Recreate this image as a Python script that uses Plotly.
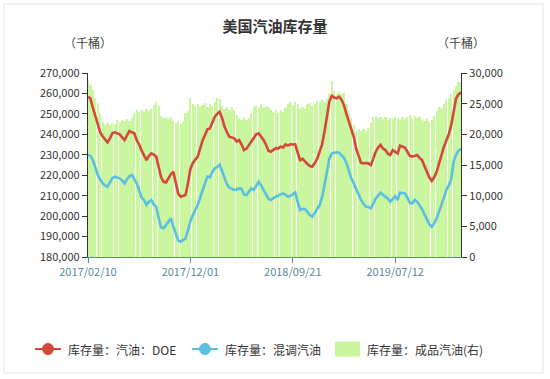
import pandas as pd
import plotly.graph_objects as go

# ---- data ----
start_date = "2017-02-10"
n_weeks = 154
dates = pd.date_range(start_date, periods=n_weeks, freq="7D")

tick_dates = ["2017-02-10", "2017-12-01", "2018-09-21", "2019-07-12"]
tick_labels = ["2017/02/10", "2017/12/01", "2018/09/21", "2019/07/12"]

doe_gasoline = [
    258.4, 257.5, 253.0, 249.0, 245.0, 241.0, 239.0, 237.5, 236.1, 238.0,
    240.5, 241.0, 240.5, 240.0, 238.5, 237.2, 239.5, 241.6, 241.0, 240.5,
    237.0, 235.0, 232.0, 230.0, 227.4, 229.5, 230.7, 230.0, 229.1, 224.0,
    219.0, 216.8, 216.5, 218.5, 220.5, 221.7, 217.0, 211.0, 209.5, 210.0,
    210.3, 216.0, 223.0, 226.0, 227.5, 229.1, 233.0, 237.0, 239.7, 242.5,
    242.9, 246.0, 248.6, 250.0, 251.1, 248.0, 243.7, 241.0, 238.8, 238.5,
    238.0, 236.5, 237.2, 235.0, 232.3, 233.0, 234.8, 237.0, 238.8, 240.0,
    240.5, 239.0, 237.2, 235.0, 232.0, 231.5, 232.5, 233.2, 233.0, 234.0,
    233.5, 235.1, 234.5, 235.1, 235.0, 235.1, 231.0, 227.4, 228.0, 226.6,
    225.5, 224.5, 224.2, 226.0, 228.0, 231.5, 235.0, 241.3, 249.0, 256.0,
    258.9, 258.0, 257.6, 258.4, 257.0, 254.3, 250.0, 246.2, 243.0, 238.8,
    233.0, 229.0, 226.0, 225.8, 226.0, 225.8, 225.0, 228.0, 231.5, 233.5,
    234.8, 233.0, 232.3, 230.5, 229.9, 232.3, 231.5, 230.7, 234.4, 234.0,
    233.5, 231.5, 229.5, 229.1, 229.5, 229.9, 228.5, 227.4, 224.5, 221.7,
    219.0, 217.2, 219.0, 221.7, 226.0, 230.7, 234.0, 237.0, 240.0, 244.6,
    252.0, 257.6, 259.5, 260.5,
]

blended_gasoline = [
    229.9, 229.5, 227.4, 223.5, 220.1, 218.0, 216.0, 215.0, 214.4, 216.5,
    218.5, 219.3, 219.0, 218.5, 217.5, 216.0, 218.0, 219.5, 220.1, 218.0,
    216.0, 212.5, 209.0, 207.9, 205.4, 207.0, 207.9, 205.5, 204.6, 199.0,
    194.5, 194.0, 195.6, 197.0, 198.9, 195.0, 191.0, 188.0, 187.5, 188.5,
    189.1, 193.0, 197.5, 200.5, 203.0, 205.4, 209.0, 213.0, 216.0, 219.3,
    219.0, 221.5, 223.4, 224.0, 225.3, 222.0, 218.5, 215.5, 213.9, 213.3,
    212.8, 213.0, 213.6, 213.3, 210.5, 210.3, 212.0, 213.6, 212.8, 214.5,
    216.8, 215.0, 212.8, 210.5, 208.5, 207.9, 208.8, 209.5, 210.0, 210.5,
    211.1, 210.5, 209.5, 209.8, 210.5, 211.6, 207.0, 203.0, 203.5, 203.5,
    202.0, 200.5, 199.7, 202.0, 203.5, 205.4, 209.0, 215.2, 222.0, 228.0,
    230.7, 231.0, 231.2, 231.0, 229.9, 228.5, 226.0, 222.0, 218.5, 216.0,
    213.0, 210.0, 207.9, 206.0, 204.6, 204.5, 203.8, 206.0, 208.7, 210.0,
    211.5, 210.5, 209.5, 208.5, 207.0, 208.5, 209.8, 207.9, 211.5, 211.3,
    211.1, 209.0, 206.5, 206.2, 207.9, 207.0, 205.4, 203.5, 201.0, 198.5,
    196.0, 194.8, 196.5, 198.9, 202.0, 205.4, 209.0, 212.8, 215.0, 218.0,
    227.0, 230.0, 232.0, 233.0,
]

finished_gasoline = [
    28.9, 28.0, 27.2, 26.0, 25.1, 23.5, 22.0, 21.6, 21.8, 21.5,
    21.9, 21.7, 22.3, 22.0, 22.4, 22.1, 22.5, 22.2, 22.6, 23.5,
    23.9, 23.6, 24.0, 23.7, 24.2, 23.8, 24.1, 24.8, 25.3, 24.6,
    23.0, 22.6, 22.9, 22.5, 22.8, 22.2, 21.9, 22.1, 21.7, 22.0,
    23.4, 23.8, 25.9, 25.0, 24.6, 24.9, 24.4, 24.8, 25.1, 24.5,
    24.9, 24.7, 25.3, 25.9, 25.7, 24.6, 24.2, 24.5, 24.0, 24.4,
    23.9, 23.2, 22.6, 22.4, 22.8, 22.3, 22.6, 23.5, 24.4, 24.8,
    24.5, 24.9, 24.3, 24.7, 24.4, 24.0, 23.6, 23.9, 23.5, 24.0,
    23.7, 24.3, 25.0, 25.2, 24.8, 25.3, 24.9, 24.2, 24.5, 24.1,
    24.9, 25.1, 24.7, 25.0, 25.4, 25.2, 25.6, 25.3, 25.8, 26.5,
    28.7, 27.0, 26.6, 26.9, 26.5, 26.7, 25.0, 23.8, 22.6, 21.6,
    20.6, 20.9, 20.5, 20.8, 20.6, 21.0, 21.9, 22.8, 23.0, 22.6,
    22.9, 22.5, 22.8, 22.4, 22.7, 22.5, 22.9, 22.6, 22.3, 22.8,
    22.5, 22.9, 23.1, 22.7, 23.0, 22.6, 22.9, 22.4, 22.2, 22.6,
    22.0, 22.3, 23.0, 23.8, 24.5, 24.3, 25.0, 25.6, 26.0, 26.6,
    27.2, 27.9, 28.5, 28.3,
]

names = ["库存量：汽油：DOE", "库存量：混调汽油", "库存量：成品汽油(右)"]
colors = ["#d5473a", "#5bbfe0", "#caf6a0"]

# ---- figure ----
FONT = "Noto Sans CJK SC, Microsoft YaHei, sans-serif"
W, H = 550, 379
L, R, T, B = 88, 461, 73, 257  # plot area in pixels


def px(xp):
    return (xp - L) / (R - L)


def py(yp):
    return (B - yp) / (B - T)


fig = go.Figure()

week_ms = 7 * 24 * 3600 * 1000
fig.add_trace(go.Bar(
    x=dates, y=[v * 1000 for v in finished_gasoline], name=names[2],
    marker=dict(color=colors[2], line=dict(width=0)),
    width=week_ms * 0.9, yaxis="y",
))
fig.add_trace(go.Scatter(
    x=dates, y=[v * 1000 for v in doe_gasoline], name=names[0],
    mode="lines", line=dict(color=colors[0], width=2.6), yaxis="y2",
))
fig.add_trace(go.Scatter(
    x=dates, y=[v * 1000 for v in blended_gasoline], name=names[1],
    mode="lines", line=dict(color=colors[1], width=2.6), yaxis="y2",
))

axis_dark = "#333333"
xcol = "#5b8a99"

fig.update_layout(
    width=W, height=H,
    margin=dict(l=L, r=W - R, t=T, b=H - B),
    paper_bgcolor="white", plot_bgcolor="white",
    font=dict(family=FONT, size=11, color="#333"),
    title=dict(text="<b>美国汽油库存量</b>", x=0.5, xanchor="center",
               y=1 - 27 / H, yanchor="middle",
               font=dict(size=15, color="#333", family=FONT)),
    barmode="overlay", bargap=0,
    showlegend=False,
    xaxis=dict(
        type="date", range=[dates[0], dates[-1]],
        tickvals=pd.to_datetime(tick_dates), ticktext=tick_labels,
        showline=True, linecolor=xcol, linewidth=1.2,
        ticks="outside", ticklen=5, tickcolor=xcol,
        tickfont=dict(size=11, color=xcol), showgrid=False, zeroline=False,
    ),
    yaxis=dict(
        side="right", range=[0, 30000], dtick=5000, tickformat=",",
        showline=True, linecolor=axis_dark, linewidth=1.2,
        ticks="outside", ticklen=5, tickcolor=axis_dark,
        tickfont=dict(size=11, color="#333"), showgrid=False, zeroline=False,
    ),
    yaxis2=dict(
        side="left", overlaying="y", range=[180000, 270000], dtick=10000,
        tickformat=",", showline=True, linecolor=axis_dark, linewidth=1.2,
        ticks="outside", ticklen=5, tickcolor=axis_dark,
        tickfont=dict(size=11, color="#333"), showgrid=False, zeroline=False,
    ),
)

# unit labels
for xp in (0, 1):
    fig.add_annotation(text="（千桶）", xref="paper", yref="paper",
                       x=xp, y=py(43), xanchor="center",
                       yanchor="middle", showarrow=False,
                       font=dict(size=12, color="#444", family=FONT))

# outer border
fig.add_shape(type="rect", xref="paper", yref="paper",
              x0=px(4), x1=px(543), y0=py(373), y1=py(4),
              line=dict(color="#e3e3e3", width=1), layer="below")

# ---- legend (drawn manually so it stays on one row) ----
ly = 349
legend_items = [
    ("line", colors[0], 35, 61, names[0], 66),
    ("line", colors[1], 192, 218, names[1], 223),
    ("rect", colors[2], 335, 360, names[2], 365),
]
for kind, c, x0, x1, label, tx in legend_items:
    if kind == "line":
        fig.add_shape(type="line", xref="paper", yref="paper",
                      x0=px(x0), x1=px(x1), y0=py(ly), y1=py(ly),
                      line=dict(color=c, width=2))
        cx = (x0 + x1) / 2
        fig.add_shape(type="circle", xref="paper", yref="paper",
                      x0=px(cx - 5.5), x1=px(cx + 5.5),
                      y0=py(ly + 5.5), y1=py(ly - 5.5),
                      fillcolor=c, line=dict(color=c, width=1))
    else:
        fig.add_shape(type="rect", xref="paper", yref="paper",
                      x0=px(x0), x1=px(x1), y0=py(ly + 7.5), y1=py(ly - 7.5),
                      fillcolor=c, line=dict(width=0))
    fig.add_annotation(text=label, xref="paper", yref="paper",
                       x=px(tx), y=py(ly), xanchor="left", yanchor="middle",
                       showarrow=False,
                       font=dict(size=12, color="#333", family=FONT))

fig.write_html(
    "out.html",
    config={"displayModeBar": False},
    post_script="document.body.style.margin='0';document.body.style.overflow='hidden';",
)
